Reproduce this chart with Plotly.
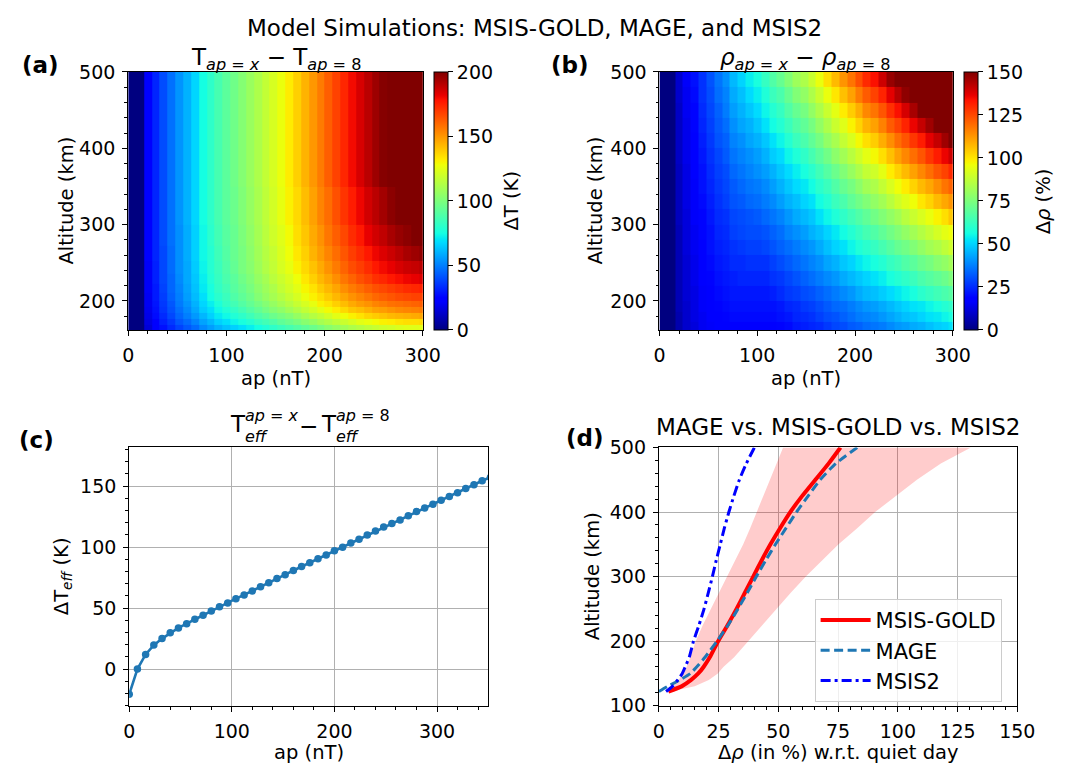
import numpy as np
import plotly.graph_objects as go

# ------------------------------------------------------------------ data
# (a)/(b) heat-map grid: ap cell edges (nT) and altitude cell edges (km)
AP_EDGES = [0, 8, 16, 24, 32, 40, 48, 56, 64, 72, 80, 88, 96, 104, 112, 120, 128, 136, 144,
            152, 160, 168, 176, 184, 192, 200, 208, 216, 224, 232, 240, 248, 256, 264, 272,
            280, 288, 296, 304]

ALT_EDGES_T = [160, 168, 176, 184, 192, 200, 210, 222, 236, 252, 272, 300, 350, 500]

# (a) T(ap=x) - T(ap=8), K ; one row per altitude cell (bottom -> top)
DT_ROWS = [
    [-20, 0, 15, 22, 28, 33, 38, 42, 46, 52, 56, 60, 63, 66, 69, 72, 75, 78, 81, 84, 87, 90, 93, 96, 99, 103, 106, 109, 112, 114, 116, 118, 120, 121, 123, 124, 124, 125],
    [-20, 0, 17, 25, 31, 36, 42, 46, 51, 57, 61, 66, 69, 73, 76, 79, 83, 86, 89, 93, 96, 99, 103, 106, 110, 113, 116, 119, 122, 125, 127, 129, 131, 132, 134, 135, 135, 136],
    [-20, 0, 18, 27, 33, 39, 45, 50, 55, 61, 66, 71, 74, 78, 81, 85, 89, 92, 96, 99, 102, 106, 110, 114, 117, 121, 125, 128, 131, 134, 137, 139, 141, 143, 144, 145, 146, 147],
    [-20, 0, 19, 28, 35, 41, 47, 52, 58, 65, 69, 74, 78, 82, 86, 90, 94, 98, 102, 105, 109, 113, 117, 121, 125, 129, 132, 136, 140, 142, 145, 148, 149, 151, 153, 154, 155, 156],
    [-20, 0, 20, 29, 36, 42, 49, 54, 60, 67, 72, 77, 82, 86, 90, 94, 98, 102, 106, 110, 114, 118, 122, 126, 131, 134, 138, 142, 146, 149, 151, 154, 156, 158, 159, 160, 161, 162],
    [-20, 0, 20, 30, 37, 44, 50, 56, 62, 69, 75, 80, 84, 89, 93, 97, 102, 106, 110, 114, 118, 122, 127, 131, 135, 139, 143, 147, 151, 154, 157, 160, 162, 164, 166, 167, 168, 168],
    [-20, 0, 21, 30, 38, 45, 51, 57, 63, 71, 76, 82, 86, 91, 95, 99, 104, 108, 112, 117, 121, 125, 130, 134, 139, 143, 147, 152, 156, 159, 162, 165, 167, 169, 171, 173, 174, 175],
    [-20, 0, 21, 31, 39, 45, 52, 58, 64, 72, 78, 83, 88, 92, 97, 101, 106, 110, 115, 119, 123, 128, 133, 138, 143, 147, 152, 157, 161, 165, 168, 172, 174, 177, 179, 181, 182, 184],
    [-20, 0, 21, 31, 39, 46, 53, 58, 65, 73, 79, 84, 89, 94, 99, 103, 108, 113, 117, 122, 126, 131, 136, 141, 146, 151, 156, 161, 166, 169, 173, 177, 180, 182, 185, 187, 188, 190],
    [-20, 0, 22, 32, 39, 46, 53, 59, 66, 74, 79, 85, 90, 95, 99, 104, 109, 114, 118, 123, 128, 133, 138, 144, 149, 154, 159, 164, 169, 173, 177, 181, 184, 187, 190, 193, 195, 197],
    [-20, 0, 22, 32, 40, 47, 53, 59, 66, 74, 80, 86, 91, 95, 100, 105, 110, 115, 120, 124, 129, 135, 140, 146, 151, 157, 162, 167, 173, 177, 182, 186, 189, 193, 196, 198, 201, 203],
    [-20, 0, 22, 32, 40, 47, 54, 60, 67, 75, 81, 87, 92, 96, 101, 106, 111, 116, 121, 126, 131, 136, 142, 148, 154, 159, 165, 171, 176, 181, 186, 190, 194, 198, 201, 204, 207, 210],
    [-20, 0, 22, 32, 40, 47, 54, 60, 67, 75, 81, 87, 92, 97, 102, 107, 112, 117, 122, 127, 132, 138, 144, 150, 156, 162, 168, 174, 180, 185, 190, 195, 199, 203, 207, 210, 213, 216],
]

ALT_EDGES_RHO = [160, 172, 186, 200, 220, 240, 260, 280, 300, 320, 340, 360, 380, 400, 420,
                 440, 460, 480, 500]

# (b) rho(ap=x) - rho(ap=8), % ; one row per altitude cell (bottom -> top)
DRHO_ROWS = [
    [-5, 0, 6, 10, 12, 15, 16, 17, 17, 18, 18, 18, 18, 18, 18, 19, 20, 22, 23, 24, 25, 27, 29, 30, 32, 33, 35, 36, 37, 39, 41, 42, 44, 45, 47, 49, 50, 52],
    [-5, 0, 6, 10, 13, 15, 17, 18, 19, 20, 20, 20, 20, 20, 20, 21, 22, 24, 25, 26, 28, 30, 31, 33, 35, 37, 38, 39, 41, 43, 45, 47, 48, 50, 52, 53, 55, 57],
    [-5, 0, 7, 10, 13, 16, 18, 19, 20, 21, 21, 21, 21, 21, 21, 22, 24, 25, 27, 28, 30, 32, 34, 35, 37, 39, 41, 42, 44, 46, 48, 50, 52, 53, 55, 57, 59, 61],
    [-5, 0, 7, 11, 13, 16, 18, 20, 21, 22, 22, 22, 22, 22, 23, 25, 27, 28, 30, 31, 33, 35, 37, 39, 41, 44, 46, 47, 49, 51, 53, 55, 57, 60, 62, 64, 66, 68],
    [-5, 0, 7, 11, 14, 17, 19, 21, 22, 23, 24, 24, 24, 24, 26, 27, 29, 31, 33, 35, 37, 39, 41, 44, 46, 48, 50, 52, 54, 57, 59, 61, 63, 66, 68, 70, 72, 75],
    [-5, 0, 7, 11, 14, 17, 20, 22, 23, 25, 25, 26, 26, 26, 28, 30, 32, 34, 36, 38, 40, 43, 45, 48, 50, 53, 55, 57, 59, 62, 64, 67, 69, 72, 74, 77, 79, 82],
    [-5, 0, 7, 12, 15, 18, 21, 23, 24, 26, 27, 28, 28, 29, 31, 33, 35, 37, 39, 41, 44, 47, 50, 52, 55, 58, 60, 62, 65, 68, 71, 73, 76, 79, 82, 84, 87, 90],
    [-5, 0, 7, 12, 15, 19, 21, 24, 25, 28, 29, 30, 30, 31, 33, 35, 38, 40, 42, 45, 47, 50, 53, 56, 59, 62, 65, 67, 70, 73, 76, 79, 82, 85, 88, 91, 94, 96],
    [-5, 0, 8, 12, 16, 19, 22, 25, 26, 29, 30, 31, 32, 34, 36, 38, 41, 44, 46, 48, 52, 55, 58, 61, 64, 67, 70, 73, 76, 79, 82, 86, 89, 92, 95, 98, 101, 105],
    [-5, 0, 8, 13, 16, 20, 23, 26, 28, 31, 32, 34, 35, 37, 39, 42, 45, 47, 50, 52, 56, 59, 63, 66, 70, 73, 76, 79, 82, 86, 90, 93, 96, 100, 103, 107, 110, 113],
    [-5, 0, 8, 13, 16, 21, 24, 27, 29, 32, 34, 36, 37, 39, 42, 45, 48, 51, 53, 56, 60, 63, 67, 71, 74, 78, 82, 84, 88, 92, 96, 99, 103, 107, 110, 114, 118, 121],
    [-5, 0, 8, 13, 17, 21, 25, 28, 30, 34, 36, 38, 40, 42, 45, 48, 51, 54, 57, 60, 64, 68, 72, 76, 80, 84, 88, 90, 94, 99, 103, 107, 111, 115, 119, 123, 126, 130],
    [-5, 0, 9, 14, 18, 22, 26, 29, 32, 36, 38, 40, 42, 45, 49, 51, 55, 58, 61, 65, 69, 73, 78, 82, 86, 90, 94, 97, 101, 106, 111, 115, 119, 123, 128, 132, 136, 140],
    [-5, 0, 9, 14, 18, 23, 27, 31, 33, 38, 40, 43, 45, 48, 52, 55, 59, 63, 66, 70, 74, 79, 83, 88, 92, 97, 101, 104, 109, 114, 119, 123, 128, 132, 137, 141, 146, 150],
    [-5, 0, 9, 14, 19, 24, 28, 32, 35, 40, 43, 45, 48, 52, 56, 59, 63, 67, 70, 74, 79, 84, 89, 93, 98, 103, 108, 111, 116, 122, 126, 131, 136, 141, 146, 151, 155, 160],
    [-5, 0, 9, 15, 19, 25, 29, 33, 37, 42, 45, 48, 51, 55, 59, 62, 67, 71, 74, 79, 84, 89, 94, 99, 104, 109, 115, 118, 123, 129, 134, 139, 145, 150, 155, 160, 165, 170],
    [-5, 0, 10, 15, 20, 26, 30, 35, 38, 44, 47, 51, 54, 58, 63, 66, 71, 76, 79, 84, 89, 95, 100, 106, 111, 117, 122, 126, 131, 137, 143, 148, 154, 159, 165, 170, 176, 181],
    [-5, 0, 10, 16, 21, 26, 31, 36, 40, 46, 50, 54, 57, 62, 67, 71, 76, 81, 84, 89, 95, 101, 107, 113, 118, 124, 130, 134, 140, 147, 152, 158, 164, 170, 176, 181, 187, 193],
]

# (c) effective temperature difference
AP_C = [0, 8, 16, 24, 32, 40, 48, 56, 64, 72, 80, 88, 96, 104, 112, 120, 128, 136, 144, 152,
        160, 168, 176, 184, 192, 200, 208, 216, 224, 232, 240, 248, 256, 264, 272, 280, 288,
        296, 304, 312, 320, 328, 336, 344, 352]
DTEFF = [-20.7, 0, 12.0, 19.6, 25, 29.7, 33.7, 37.2, 40.9, 44.1, 47.5, 51, 54.2, 57.7, 60.8,
         64, 67.5, 70.7, 74.2, 77.4, 80.8, 84, 87.2, 90.4, 93.5, 97, 99.9, 103.3, 106.5, 110,
         113.2, 116.4, 119.3, 122.2, 125.7, 129.2, 132.1, 135.2, 138.4, 141.4, 144.6, 148,
         151.2, 154.4, 157.3]

# (d) density change profiles (%) vs altitude (km)
ALT_D = [122, 130, 140, 150, 160, 175, 200, 225, 250, 275, 300, 325, 350, 375, 400, 425, 450, 475, 500]
GOLD = [4, 9.5, 13.5, 16.5, 18.7, 21.3, 24.8, 28.8, 32.5, 36, 39.5, 43, 46.7, 50.7, 55, 60, 65.5, 71, 76]
MAGE = [0, 3.7, 8.8, 13.2, 15.8, 19.3, 24.3, 29, 33.1, 37, 40.8, 44.7, 48.8, 53.2, 57.6, 62.5, 67.5, 74, 83]
MSIS2 = [3, 5.7, 7.9, 9.8, 11, 12.7, 14.5, 16.8, 18.9, 20.7, 22.4, 24, 25.7, 27.4, 29.3, 31.4, 33.7, 36.6, 40]
BAND_LO = [4, 6, 8.3, 10, 11.6, 13.2, 15.4, 18.4, 21.8, 25.1, 28.5, 31.9, 35.3, 38.2, 41, 43.7, 46.4, 49.2, 52]
BAND_HI = [5, 15, 20.9, 24.7, 27, 31.5, 37.5, 43.6, 49.2, 55.2, 61.5, 68.3, 75.2, 83, 90.5, 99.5, 108, 118, 130.6]

assert all(len(r) == len(AP_EDGES) - 1 for r in DT_ROWS + DRHO_ROWS)
assert len(DT_ROWS) == len(ALT_EDGES_T) - 1 and len(DRHO_ROWS) == len(ALT_EDGES_RHO) - 1

# ------------------------------------------------------------------ style helpers
# The figure fills the whole window; positions are given in 1080x776 window pixels.
W, H = 1080, 776
FONT = "DejaVu Sans"


def px(x):
    return x / W


def py(y):
    return 1 - y / H


def jet_scale():
    stops = [0, 0.11, 0.125, 0.34, 0.35, 0.375, 0.64, 0.65, 0.66, 0.89, 0.91, 1.0]
    r = np.interp(stops, [0, 0.35, 0.66, 0.89, 1], [0, 0, 1, 1, 0.5])
    g = np.interp(stops, [0, 0.125, 0.375, 0.64, 0.91, 1], [0, 0, 1, 1, 0, 0])
    b = np.interp(stops, [0, 0.11, 0.34, 0.65, 1], [0.5, 1, 1, 0, 0])
    return [[s, f"rgb({int(round(255*rr))},{int(round(255*gg))},{int(round(255*bb))})"]
            for s, rr, gg, bb in zip(stops, r, g, b)]


JET = jet_scale()
TICKFONT = dict(family=FONT, size=19, color="black")


def axis(domain, rng, dtick, minor, anchor, grid=False, tick0=0):
    return dict(domain=domain, range=rng, dtick=dtick, tick0=tick0, anchor=anchor,
                showline=True, linecolor="black", linewidth=1.1, mirror=True,
                ticks="outside", ticklen=5, tickwidth=1.1, tickcolor="black",
                tickfont=TICKFONT, ticklabelstandoff=3,
                showgrid=grid, gridcolor="#b0b0b0", gridwidth=1.1, zeroline=False,
                minor=dict(dtick=minor, tick0=0, ticks="outside", ticklen=2.8,
                           tickwidth=0.9, tickcolor="black", showgrid=False))


def cbar(x_left, ticks):
    return dict(x=px(x_left), xanchor="left", xref="paper",
                y=py(195.5), yanchor="middle", yref="paper",
                len=(328.3 - 62.7) / H, lenmode="fraction",
                thickness=14, thicknessmode="pixels",
                xpad=0, ypad=0, outlinewidth=1, outlinecolor="black",
                ticks="outside", ticklen=5, tickwidth=1.1, tickcolor="black",
                tickvals=ticks, tickfont=TICKFONT)


def ann(text, x, y, size=19.5, angle=0, xanchor="center", yanchor="middle"):
    return dict(text=text, x=x, y=y, xref="paper", yref="paper", showarrow=False,
                font=dict(family=FONT, size=size, color="black"), textangle=angle,
                xanchor=xanchor, yanchor=yanchor, borderpad=0)


# ------------------------------------------------------------------ traces
fig = go.Figure()

fig.add_trace(go.Heatmap(x=AP_EDGES, y=ALT_EDGES_T, z=DT_ROWS, colorscale=JET,
                         zmin=0, zmax=200, xaxis="x", yaxis="y", hoverinfo="skip",
                         colorbar=cbar(437.7, [0, 50, 100, 150, 200])))
fig.add_trace(go.Heatmap(x=AP_EDGES, y=ALT_EDGES_RHO, z=DRHO_ROWS, colorscale=JET,
                         zmin=0, zmax=150, xaxis="x2", yaxis="y2", hoverinfo="skip",
                         colorbar=cbar(979.5, [0, 25, 50, 75, 100, 125, 150])))

fig.add_trace(go.Scatter(x=AP_C, y=DTEFF, mode="lines+markers", xaxis="x3", yaxis="y3",
                         line=dict(color="#1f77b4", width=2.6),
                         marker=dict(color="#1f77b4", size=7.5), showlegend=False))

fig.add_trace(go.Scatter(x=BAND_LO + BAND_HI[::-1], y=ALT_D + ALT_D[::-1], fill="toself",
                         fillcolor="rgba(255,0,0,0.2)", line=dict(width=0), mode="lines",
                         xaxis="x4", yaxis="y4", showlegend=False, hoverinfo="skip"))
fig.add_trace(go.Scatter(x=GOLD, y=ALT_D, mode="lines", name="MSIS-GOLD",
                         line=dict(color="red", width=4, shape="spline", smoothing=0.6),
                         xaxis="x4", yaxis="y4"))
fig.add_trace(go.Scatter(x=MAGE, y=ALT_D, mode="lines", name="MAGE",
                         line=dict(color="#1f77b4", width=3, dash="9px,4.5px",
                                   shape="spline", smoothing=0.6),
                         xaxis="x4", yaxis="y4"))
fig.add_trace(go.Scatter(x=MSIS2, y=ALT_D, mode="lines", name="MSIS2",
                         line=dict(color="#0000ff", width=3, dash="10px,4px,3px,4px",
                                   shape="spline", smoothing=0.6),
                         xaxis="x4", yaxis="y4"))

# ------------------------------------------------------------------ layout
top_dom = [py(328.3), py(62.7)]
bot_dom = [py(715), py(449.2)]

layout = dict(
    autosize=True, margin=dict(l=0, r=0, t=0, b=0, pad=0),
    paper_bgcolor="white", plot_bgcolor="white", hovermode=False,
    font=dict(family=FONT, color="black"),
    xaxis=axis([px(125), px(426.3)], [0, 300], 100, 20, "y"),
    yaxis=axis(top_dom, [162, 500], 100, 20, "x"),
    xaxis2=axis([px(668.3), px(968.3)], [0, 300], 100, 20, "y2"),
    yaxis2=axis(top_dom, [162, 500], 100, 20, "x2"),
    xaxis3=axis([px(126), px(493.3)], [0, 350], 100, 20, "y3", grid=True),
    yaxis3=axis(bot_dom, [-30.1, 181.7], 50, 10, "x3", grid=True),
    xaxis4=axis([px(667.7), px(1034.3)], [0, 150], 25, 5, "y4", grid=True),
    yaxis4=axis(bot_dom, [100, 500], 100, 20, "x4", grid=True),
    legend=dict(x=px(827), y=py(605), xanchor="left", yanchor="top",
                bgcolor="rgba(255,255,255,0.8)", bordercolor="#cccccc", borderwidth=1,
                font=dict(family=FONT, size=21, color="black"), tracegroupgap=0,
                itemwidth=50),
)

I = lambda s: f"<i>{s}</i>"
annotations = [
    ann("Model Simulations: MSIS-GOLD, MAGE, and MSIS2", 0.5, py(17), size=23),
    ann("<b>(a)</b>", px(35), py(56), size=23),
    ann("<b>(b)</b>", px(577), py(56), size=23),
    ann("<b>(c)</b>", px(31), py(442), size=23),
    ann("<b>(d)</b>", px(592), py(439), size=23),
    # subplot titles
    ann(f"T<sub>{I('ap')} = {I('x')}</sub> − T<sub>{I('ap')} = 8</sub>", px(276), py(49), size=23),
    ann(f"{I('ρ')}<sub>{I('ap')} = {I('x')}</sub> − {I('ρ')}<sub>{I('ap')} = 8</sub>", px(818), py(49), size=23),
    ann("MAGE vs. MSIS-GOLD vs. MSIS2", px(851), py(428), size=23),
    # (c) title built from stacked pieces
    ann("T", px(228), py(425), size=23, xanchor="left"),
    ann(f"{I('ap')} = {I('x')}", px(243), py(416.5), size=16, xanchor="left"),
    ann(I("eff"), px(243), py(437.5), size=16, xanchor="left"),
    ann("−", px(309), py(427), size=23),
    ann("T", px(321.5), py(425), size=23, xanchor="left"),
    ann(f"{I('ap')} = 8", px(336.5), py(416.5), size=16, xanchor="left"),
    ann(I("eff"), px(336.5), py(437.5), size=16, xanchor="left"),
    # axis titles
    ann("ap (nT)", px(276), py(378)),
    ann("ap (nT)", px(818), py(378)),
    ann("ap (nT)", px(309.5), py(763)),
    ann(f"Δ{I('ρ')} (in %) w.r.t. quiet day", px(851), py(763)),
    ann("Altitude (km)", px(62), py(195.5), angle=-90),
    ann("Altitude (km)", px(603), py(195.5), angle=-90),
    ann(f"ΔT<sub>{I('eff')}</sub> (K)", px(58), py(582), angle=-90),
    ann("Altitude (km)", px(600), py(582), angle=-90),
    ann("ΔT (K)", px(517), py(195.5), angle=-90),
    ann(f"Δ{I('ρ')} (%)", px(1062), py(195.5), angle=-90),
]
layout["annotations"] = annotations

fig.update_layout(**layout)
fig.write_html(
    "out.html",
    config={"displayModeBar": False, "responsive": True},
    default_width="100vw", default_height="100vh",
    post_script=("document.documentElement.style.overflow='hidden';"
                 "document.body.style.margin='0px';"
                 "document.body.style.overflow='hidden';"
                 "Plotly.Plots.resize(document.getElementById('{plot_id}'));"),
)
